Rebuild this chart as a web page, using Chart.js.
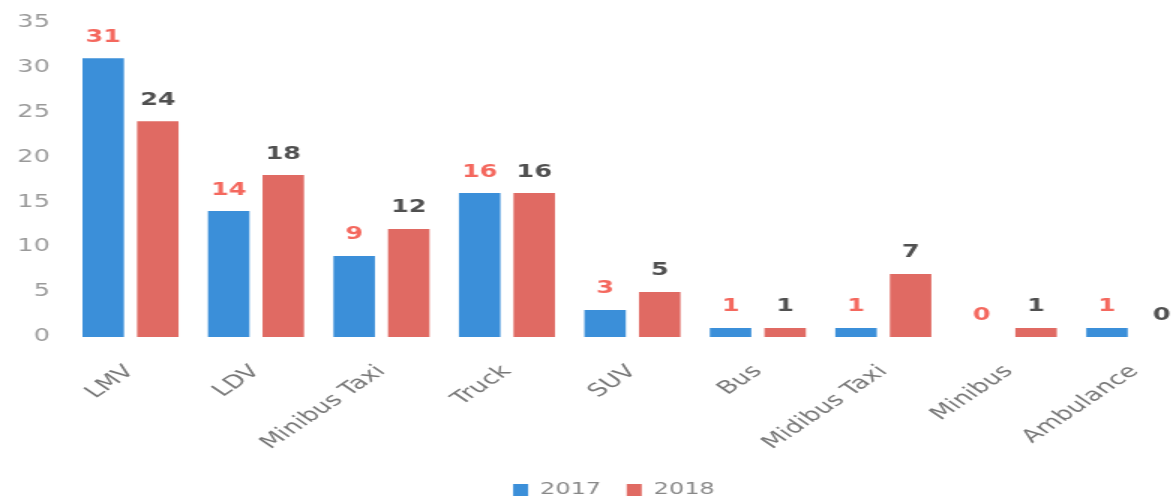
<!DOCTYPE html>
<html>
<head>
<meta charset="utf-8">
<script src="https://cdn.jsdelivr.net/npm/chart.js@4"></script>
<style>
  html, body { margin: 0; padding: 0; background: #fff; overflow: hidden; width: 1171px; height: 502px; }
  #wrap { position: absolute; left: 0; top: 0; width: 820px; height: 502px; transform: scaleX(1.5); transform-origin: 0 0; }
</style>
</head>
<body>
<div id="wrap"><canvas id="c"></canvas></div>
<script>
const categories = ["LMV", "LDV", "Minibus Taxi", "Truck", "SUV", "Bus", "Midibus Taxi", "Minibus", "Ambulance"];
const values2017 = [31, 14, 9, 16, 3, 1, 1, 0, 1];
const values2018 = [24, 18, 12, 16, 5, 1, 7, 1, 0];
const seriesNames = ["2017", "2018"];
const yTicks = [0, 5, 10, 15, 20, 25, 30, 35];

const barColors = ["#3b8fd9", "#e06a63"];
const labelColors = ["#f4685e", "#505050"];

const valueLabels = {
  id: "valueLabels",
  afterDatasetsDraw(chart) {
    const ctx = chart.ctx;
    chart.data.datasets.forEach((ds, i) => {
      const meta = chart.getDatasetMeta(i);
      meta.data.forEach((bar, j) => {
        ctx.save();
        ctx.font = 'bold 17px "DejaVu Sans"';
        ctx.fillStyle = labelColors[i];
        ctx.textAlign = "center";
        ctx.textBaseline = "middle";
        ctx.fillText(String(ds.data[j]), bar.x, bar.y - 21);
        ctx.restore();
      });
    });
  }
};

const legendShift = {
  id: "legendShift",
  afterLayout(chart) {
    if (chart.legend) {
      chart.legend.left += 10.3;
      chart.legend.right += 10.3;
    }
  }
};

new Chart(document.getElementById("c"), {
  type: "bar",
  data: {
    labels: categories,
    datasets: [
      { label: seriesNames[0], data: values2017, backgroundColor: barColors[0] },
      { label: seriesNames[1], data: values2018, backgroundColor: barColors[1] }
    ]
  },
  options: {
    responsive: true,
    maintainAspectRatio: false,
    animation: false,
    categoryPercentage: 0.87,
    barPercentage: 0.76,
    layout: { padding: { top: 21, right: 22, bottom: -6, left: 0 } },
    plugins: {
      tooltip: { enabled: false },
      legend: {
        position: "bottom",
        labels: {
          boxWidth: 10,
          boxHeight: 12,
          padding: 17,
          color: "#888888",
          font: { family: "DejaVu Sans", size: 16 }
        }
      }
    },
    scales: {
      x: {
        grid: { display: false, drawTicks: false },
        border: { display: false },
        ticks: {
          minRotation: 45,
          maxRotation: 45,
          padding: 24,
          color: "#777777",
          font: { family: "DejaVu Sans", size: 18 }
        },
        afterFit(s) { s.height = 128; }
      },
      y: {
        min: 0,
        max: 35,
        afterBuildTicks(s) { s.ticks = yTicks.map(v => ({ value: v })); },
        grid: { display: false, drawTicks: false },
        border: { display: false },
        ticks: {
          padding: 12,
          color: "#9a9a9a",
          font: { family: "DejaVu Sans", size: 17 }
        },
        afterFit(s) { s.width = 45.2; }
      }
    }
  },
  plugins: [valueLabels, legendShift]
});
</script>
</body>
</html>
